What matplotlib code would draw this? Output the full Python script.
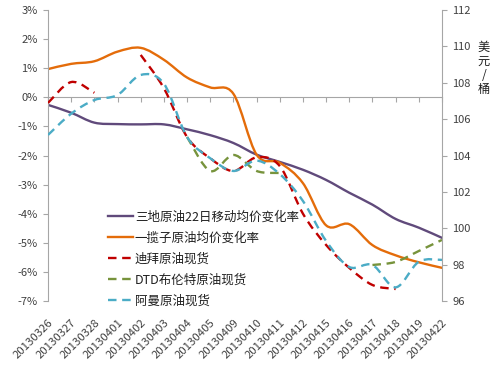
import numpy as np
import matplotlib
matplotlib.use("Agg")
import matplotlib.pyplot as plt
from matplotlib.path import Path
from matplotlib.patches import PathPatch
from matplotlib.lines import Line2D
from matplotlib.ticker import FuncFormatter, MultipleLocator

plt.rcParams['font.family'] = ['Noto Sans CJK SC', 'DejaVu Sans']

dates = ['20130326', '20130327', '20130328', '20130401', '20130402', '20130403',
         '20130404', '20130405', '20130409', '20130410', '20130411', '20130412',
         '20130415', '20130416', '20130417', '20130418', '20130419', '20130422']

# left axis (%)
sandi_ma22 = [-0.26, -0.53, -0.87, -0.92, -0.93, -0.93, -1.10, -1.30, -1.57, -1.97,
              -2.22, -2.49, -2.84, -3.28, -3.69, -4.18, -4.48, -4.83]
basket_avg = [0.97, 1.15, 1.24, 1.57, 1.70, 1.29, 0.68, 0.34, 0.12, -1.97,
              -2.25, -2.95, -4.40, -4.36, -5.08, -5.43, -5.67, -5.86]

# right axis (USD/bbl)
nan = np.nan
dubai = [106.89, 108.04, 107.45, nan, 109.53, 107.70, 105.02, 103.85, 103.15, 103.90,
         103.42, 100.80, 99.08, 97.82, 96.88, 96.66, nan, nan]
brent = [nan, nan, nan, nan, nan, nan, 105.02, 103.15, 104.03, 103.15,
         103.04, nan, nan, nan, 97.98, 98.15, 98.75, 99.36]
oman = [105.13, 106.30, 107.05, 107.33, 108.43, 107.95, 105.02, 103.85, 103.15, 103.72,
        102.98, 101.50, 99.30, 97.87, 97.98, 96.75, 98.16, 98.26]

names = ['三地原油22日移动均价变化率', '一揽子原油均价变化率', '迪拜原油现货',
         'DTD布伦特原油现货', '阿曼原油现货']
colors = ['#604A7B', '#E46C0A', '#C00000', '#77933C', '#4BACC6']

LW = 1.7
DASH = (0, (3.6, 2.4))


def smooth_patches(xv, yv, **kw):
    """Excel-like smoothed line (Catmull-Rom as cubic Bezier), split at gaps."""
    xv = np.asarray(xv, float)
    yv = np.asarray(yv, float)
    ok = ~np.isnan(yv)
    segs, cur = [], []
    for i in range(len(xv)):
        if ok[i]:
            cur.append(i)
        else:
            if cur:
                segs.append(cur)
            cur = []
    if cur:
        segs.append(cur)
    patches = []
    for s in segs:
        if len(s) < 2:
            continue
        P = np.column_stack([xv[s], yv[s]])
        n = len(P)
        verts = [P[0]]
        codes = [Path.MOVETO]
        for i in range(n - 1):
            p0 = P[i - 1] if i > 0 else P[i]
            p3 = P[i + 2] if i + 2 < n else P[i + 1]
            c1 = P[i] + (P[i + 1] - p0) / 6.0
            c2 = P[i + 1] - (p3 - P[i]) / 6.0
            verts += [c1, c2, P[i + 1]]
            codes += [Path.CURVE4] * 3
        patches.append(PathPatch(Path(verts, codes), fill=False, **kw))
    return patches


fig = plt.figure(figsize=(5.0, 3.66), dpi=100)
ax = fig.add_axes([0.096, 0.1776, 0.788, 0.795])
ax2 = ax.twinx()

x = np.arange(len(dates))
gray = '#A6A6A6'
tc = '#404040'

for vals, c in [(sandi_ma22, colors[0]), (basket_avg, colors[1])]:
    for p in smooth_patches(x, vals, edgecolor=c, lw=LW, capstyle='round', joinstyle='round'):
        ax.add_patch(p)

for vals, c in [(dubai, colors[2]), (brent, colors[3]), (oman, colors[4])]:
    for p in smooth_patches(x, vals, edgecolor=c, lw=LW, linestyle=DASH, capstyle='butt'):
        ax2.add_patch(p)

ax.set_xlim(0, len(dates) - 1)
ax.set_ylim(-7, 3)
ax2.set_ylim(96, 112)

ax.yaxis.set_major_locator(MultipleLocator(1))
ax.yaxis.set_major_formatter(FuncFormatter(lambda v, p: f'{v:.0f}%'))
ax2.yaxis.set_major_locator(MultipleLocator(2))

for a in (ax, ax2):
    for s in a.spines.values():
        s.set_visible(False)
ax.spines['left'].set_visible(True)
ax.spines['left'].set_color(gray)
ax2.spines['right'].set_visible(True)
ax2.spines['right'].set_color(gray)

ax.tick_params(axis='y', direction='out', length=3.5, width=0.8, color=gray,
               labelsize=8, labelcolor=tc, pad=4)
ax2.tick_params(axis='y', direction='out', length=3.5, width=0.8, color=gray,
                labelsize=8, labelcolor=tc, pad=4)

ax.set_xticks(x)
ax.set_xticklabels(dates, rotation=45, ha='right', rotation_mode='anchor')
ax.tick_params(axis='x', length=0, labelsize=8.2, labelcolor=tc, pad=12)

# category axis crossing at 0%
sec = ax.secondary_xaxis(0.7)
sec.set_alignment('bottom')
sec.set_xticks(x)
sec.tick_params(axis='x', direction='out', length=3.5, width=0.8, color=gray,
                labelbottom=False, labeltop=False)
sec.spines['bottom'].set_color(gray)
sec.spines['bottom'].set_linewidth(0.8)
sec.spines['top'].set_visible(False)

# right axis unit
fig.text(0.968, 0.813, '美\n元\n/\n桶', ha='center', va='center', fontsize=8.8,
         color='#202020', linespacing=1.12)

handles = [Line2D([], [], color=colors[0], lw=LW),
           Line2D([], [], color=colors[1], lw=LW),
           Line2D([], [], color=colors[2], lw=LW, ls=DASH),
           Line2D([], [], color=colors[3], lw=LW, ls=DASH),
           Line2D([], [], color=colors[4], lw=LW, ls=DASH)]
leg = ax2.legend(handles, names, loc='lower left', bbox_to_anchor=(0.13, -0.053),
                 frameon=False, fontsize=9, handlelength=2.0, handletextpad=0.15,
                 labelspacing=0.64, borderpad=0.2)
for t in leg.get_texts():
    t.set_color('#202020')

fig.savefig('out.png', dpi=100)
